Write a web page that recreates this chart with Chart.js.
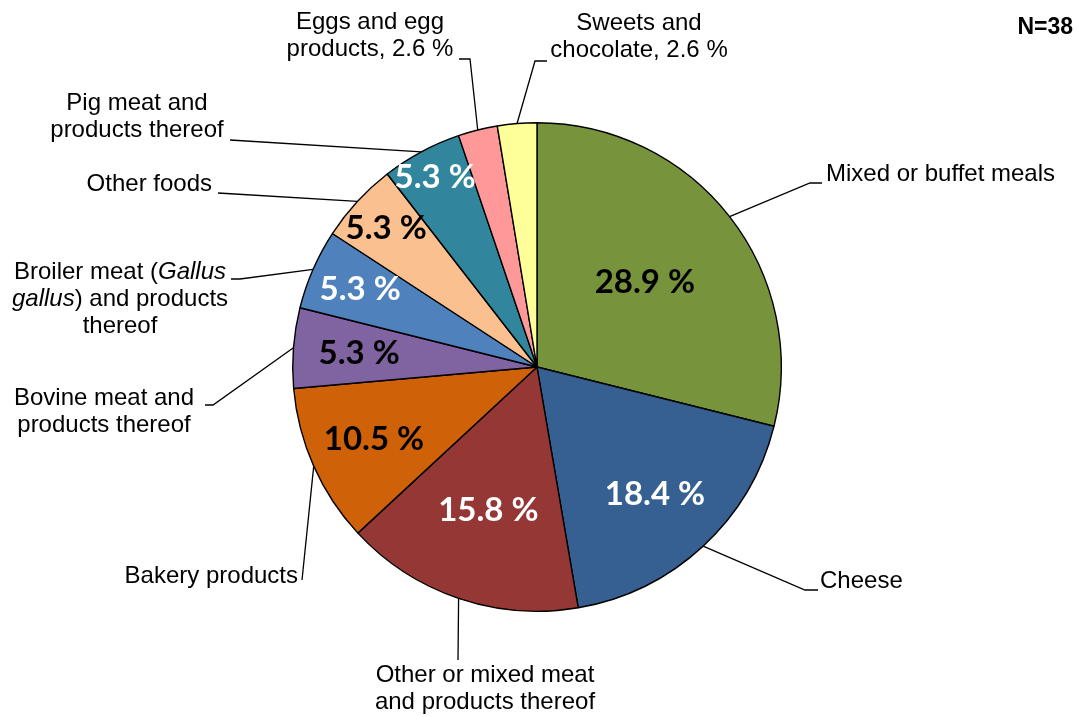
<!DOCTYPE html>
<html>
<head>
<meta charset="utf-8">
<script src="https://cdn.jsdelivr.net/npm/chart.js@4"></script>
<style>
  html, body { margin: 0; padding: 0; background: #fff; }
  #wrap { width: 1078px; height: 716px; position: relative; }
</style>
</head>
<body>
<div id="wrap"><canvas id="pie"></canvas></div>
<script>
const categories = [
    'Mixed or buffet meals',
    'Cheese',
    'Other or mixed meat and products thereof',
    'Bakery products',
    'Bovine meat and products thereof',
    'Broiler meat (Gallus gallus) and products thereof',
    'Other foods',
    'Pig meat and products thereof',
    'Eggs and egg products',
    'Sweets and chocolate',
];
const shares = [28.9, 18.4, 15.8, 10.5, 5.3, 5.3, 5.3, 5.3, 2.6, 2.6];
const sliceColors = ['#77933C', '#376092', '#953735', '#CF6209', '#8064A2',
    '#4F81BD', '#FAC090', '#31859C', '#FF9999', '#FFFF99'];
const sampleSize = 38;

// inside labels: which slices get one, text colour, distance from centre (fraction of radius)
const innerLabel = [
    { color: '#000', r: 0.56 },
    { color: '#fff', r: 0.71 },
    { color: '#fff', r: 0.62 },
    { color: '#000', r: 0.73 },
    { color: '#000', r: 0.73 },
    { color: '#fff', r: 0.79 },
    { color: '#000', r: 0.84 },
    { color: '#fff', r: 0.88 },
    null,
    null,
];

// outside labels: text lines (segments, * = italic), anchor, leader knee and end
const outerLabel = [
    { lines: [['Mixed or buffet meals']], x: 826, y: 174, align: 'left', knee: [810, 183], end: [822, 183] },
    { lines: [['Cheese']], x: 820, y: 581, align: 'left', knee: [805, 590], end: [818, 590] },
    { lines: [['Other or mixed meat'], ['and products thereof']], x: 485, y: 675, align: 'center', knee: [458, 660], end: [458, 660] },
    { lines: [['Bakery products']], x: 298, y: 576, align: 'right', knee: [302, 580], end: [302, 580] },
    { lines: [['Bovine meat and'], ['products thereof']], x: 104, y: 398, align: 'center', knee: [213, 405], end: [205, 405] },
    { lines: [['Broiler meat (', '*Gallus'], ['*gallus', ') and products'], ['thereof']], x: 120, y: 272, align: 'center', knee: [240, 279], end: [231, 279] },
    { lines: [['Other foods']], x: 212, y: 184, align: 'right', knee: [218, 193], end: [218, 193] },
    { lines: [['Pig meat and'], ['products thereof']], x: 137, y: 103, align: 'center', knee: [230, 140], end: [230, 140] },
    { lines: [['Eggs and egg'], ['products, 2.6 %']], x: 370, y: 22, align: 'center', knee: [470, 59], end: [459, 59] },
    { lines: [['Sweets and'], ['chocolate, 2.6 %']], x: 639, y: 23, align: 'center', knee: [535, 61], end: [547, 61] },
];

const LABEL_FONT = '"Liberation Sans", Arial, sans-serif';
const PCT_FONT = 'Lato, "Open Sans", sans-serif';

const pieLabels = {
    id: 'pieLabels',
    afterDatasetsDraw(chart) {
        const ctx = chart.ctx;
        const arcs = chart.getDatasetMeta(0).data;
        ctx.save();

        // leader lines and outer text
        arcs.forEach((arc, i) => {
            const o = outerLabel[i];
            const mid = (arc.startAngle + arc.endAngle) / 2;
            const sx = arc.x + Math.cos(mid) * arc.outerRadius;
            const sy = arc.y + Math.sin(mid) * arc.outerRadius;
            ctx.strokeStyle = '#000';
            ctx.lineWidth = 1.3;
            ctx.beginPath();
            ctx.moveTo(sx, sy);
            ctx.lineTo(o.knee[0], o.knee[1]);
            ctx.lineTo(o.end[0], o.end[1]);
            ctx.stroke();

            ctx.fillStyle = '#000';
            ctx.textBaseline = 'middle';
            o.lines.forEach((segs, li) => {
                const y = o.y + li * 27;
                const parts = segs.map((s) => {
                    const it = s.startsWith('*');
                    const t = it ? s.slice(1) : s;
                    ctx.font = (it ? 'italic ' : '') + '24px ' + LABEL_FONT;
                    return { t, it, w: ctx.measureText(t).width };
                });
                const total = parts.reduce((a, p) => a + p.w, 0);
                let x = o.x;
                if (o.align === 'center') x -= total / 2;
                if (o.align === 'right') x -= total;
                ctx.textAlign = 'left';
                parts.forEach((p) => {
                    ctx.font = (p.it ? 'italic ' : '') + '24px ' + LABEL_FONT;
                    ctx.fillText(p.t, x, y);
                    x += p.w;
                });
            });
        });

        // percentages inside slices
        ctx.font = 'bold 33px ' + PCT_FONT;
        ctx.textAlign = 'center';
        ctx.textBaseline = 'middle';
        arcs.forEach((arc, i) => {
            const lab = innerLabel[i];
            if (!lab) return;
            const mid = (arc.startAngle + arc.endAngle) / 2;
            const cx = arc.x + Math.cos(mid) * arc.outerRadius * lab.r;
            const cy = arc.y + Math.sin(mid) * arc.outerRadius * lab.r;
            ctx.fillStyle = lab.color;
            ctx.fillText(shares[i].toFixed(1) + ' %', cx, cy);
        });

        // sample size
        ctx.fillStyle = '#000';
        ctx.font = 'bold 23px ' + LABEL_FONT;
        ctx.textAlign = 'right';
        ctx.textBaseline = 'middle';
        ctx.fillText('N=' + sampleSize, 1073, 28);
        ctx.restore();
    },
};

new Chart(document.getElementById('pie'), {
    type: 'pie',
    data: {
        labels: categories,
        datasets: [{
            data: shares,
            backgroundColor: sliceColors,
            borderColor: '#000',
            borderWidth: 1.4,
        }],
    },
    options: {
        responsive: true,
        maintainAspectRatio: false,
        animation: false,
        layout: {
            padding: { left: 292, right: 296, top: 122, bottom: 104 },
        },
        plugins: {
            legend: { display: false },
            tooltip: { enabled: false },
        },
    },
    plugins: [pieLabels],
});
</script>
</body>
</html>
